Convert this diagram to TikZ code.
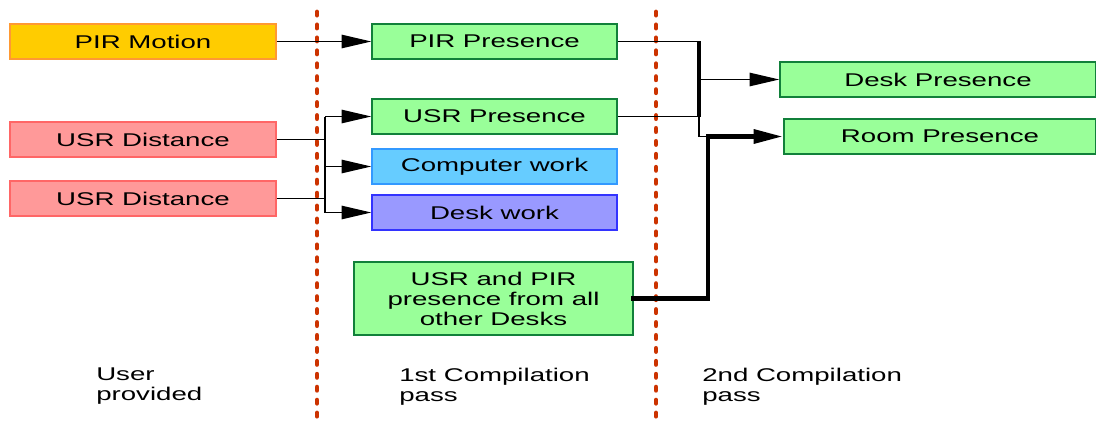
\documentclass[tikz,border=0pt]{standalone}
\usepackage{fontspec}
\setmainfont{Liberation Sans}[FakeStretch=1.5]
\usetikzlibrary{arrows.meta}

\definecolor{pirfill}{HTML}{FFCC00}
\definecolor{pirline}{HTML}{FF9933}
\definecolor{usrfill}{HTML}{FF9999}
\definecolor{usrline}{HTML}{FF6666}
\definecolor{presfill}{HTML}{99FF99}
\definecolor{presline}{HTML}{11803A}
\definecolor{compfill}{HTML}{66CCFF}
\definecolor{compline}{HTML}{3399FF}
\definecolor{deskfill}{HTML}{9999FF}
\definecolor{deskline}{HTML}{3333FF}
\definecolor{passline}{HTML}{CC3300}

\begin{document}
\begin{tikzpicture}[x=0.025cm,y=-0.025cm,
    font=\fontsize{13.1}{14.2}\selectfont,
    >={Triangle[length=21pt,width=9.5pt]},
    box/.style={draw,line width=1pt,inner sep=0pt,minimum height=0.875cm,align=center},
    pirbox/.style={box,fill=pirfill,draw=pirline},
    usrbox/.style={box,fill=usrfill,draw=usrline},
    presbox/.style={box,fill=presfill,draw=presline},
    compbox/.style={box,fill=compfill,draw=compline},
    deskbox/.style={box,fill=deskfill,draw=deskline},
    passsep/.style={draw=passline,line width=3.5pt,line cap=round,dash pattern=on 2.2pt off 7pt},
    wire/.style={line width=1pt},
    heavy/.style={line width=3.5pt},
    passlabel/.style={anchor=north west,align=left,inner sep=0pt}]

  \useasboundingbox (0,0) rectangle (1096,427);

  % pass separators
  \draw[passsep] (317,12) -- (317,424);
  \draw[passsep] (656,12) -- (656,424);

  % user provided
  \node[pirbox,minimum width=6.65cm] (pirmotion) at (143,41.5) {PIR Motion};
  \node[usrbox,minimum width=6.65cm] (usrdistA)  at (143,139.5) {USR Distance};
  \node[usrbox,minimum width=6.65cm] (usrdistB)  at (143,198.5) {USR Distance};

  % 1st pass
  \node[presbox,minimum width=6.125cm] (pirpres)  at (494.5,41.5)  {PIR Presence};
  \node[presbox,minimum width=6.125cm] (usrpres)  at (494.5,116.5) {USR Presence};
  \node[compbox,minimum width=6.125cm] (compwork) at (494.5,166.5) {Computer work};
  \node[deskbox,minimum width=6.125cm] (deskwork) at (494.5,212.5) {Desk work};
  \node[presbox,minimum width=6.975cm,minimum height=1.825cm] (otherdesks) at (493.5,298.5)
       {USR and PIR\\presence from all\\other Desks};

  % 2nd pass
  \node[presbox,minimum width=7.9cm] (deskpres) at (938,79.5)  {Desk Presence};
  \node[presbox,minimum width=7.8cm] (roompres) at (940,136.5) {Room Presence};

  % labels
  \node[passlabel] (lbluser)  at (96,368)  {User\\provided};
  \node[passlabel] (lblfirst) at (399,368) {1st Compilation\\pass};
  \node[passlabel] (lblsecond) at (702,368) {2nd Compilation\\pass};

  % junctions
  \coordinate (usrjoin)  at (325,139.5);
  \coordinate (presjoin) at (699,79.5);
  \coordinate (roomjoin) at (708,136.5);

  \draw[wire,->] (pirmotion) -- (pirpres);

  \draw[wire] (usrdistA.east) -- (usrjoin);
  \draw[wire] (usrdistB.east) -- (usrjoin |- usrdistB.east);
  \draw[wire] (usrjoin |- usrpres.west) -- (usrjoin |- deskwork.west);
  \draw[wire,->] (usrjoin |- usrpres.west)  -- (usrpres.west);
  \draw[wire,->] (usrjoin |- compwork.west) -- (compwork.west);
  \draw[wire,->] (usrjoin |- deskwork.west) -- (deskwork.west);

  \draw[wire] (pirpres.east) -- (presjoin |- pirpres.east);
  \draw[wire] (usrpres.east) -- (presjoin |- usrpres.east);
  \draw[line width=2.2pt] (presjoin |- pirpres.east) -- (presjoin |- usrpres.east);
  \draw[wire,->] (presjoin) -- (deskpres.west);
  \draw[wire] (presjoin |- usrpres.east) -- (presjoin |- roomjoin) -- (roomjoin);

  \draw[heavy,->] ([xshift=-2pt]otherdesks.east) -| (roomjoin) -- (roompres.west);
\end{tikzpicture}
\end{document}
